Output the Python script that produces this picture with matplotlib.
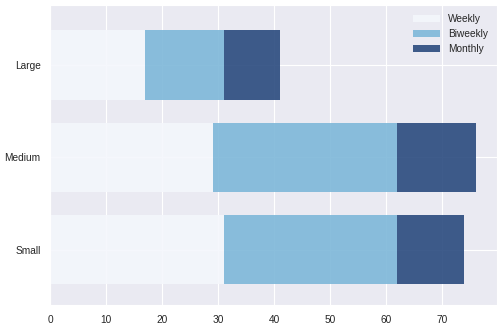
import matplotlib
matplotlib.use("Agg")
import matplotlib.pyplot as plt
import seaborn as sns

sns.set_style("darkgrid")
plt.rcParams["font.family"] = ["Liberation Sans", "DejaVu Sans"]

sizes = ["Small", "Medium", "Large"]
weekly = [31, 29, 17]
biweekly = [31, 33, 14]
monthly = [12, 14, 10]

colors = ["#f4f7fc", "#7db7d9", "#2a4a7e"]

fig, ax = plt.subplots(figsize=(5.03, 3.29), dpi=100)
fig.subplots_adjust(left=0.1, right=0.988, top=0.985, bottom=0.073)

left2 = [w + b for w, b in zip(weekly, biweekly)]
ax.barh(sizes, weekly, height=0.75, color=colors[0], alpha=0.9, linewidth=0, label="Weekly")
ax.barh(sizes, biweekly, left=weekly, height=0.75, color=colors[1], alpha=0.9, linewidth=0, label="Biweekly")
ax.barh(sizes, monthly, left=left2, height=0.75, color=colors[2], alpha=0.9, linewidth=0, label="Monthly")

ax.set_xlim(0, 79.8)
ax.set_ylim(-0.60, 2.65)
ax.tick_params(labelsize=7.3)
ax.legend(loc="upper right", fontsize=7.3, frameon=False, handlelength=2.6)

fig.savefig("out.png", dpi=100)
